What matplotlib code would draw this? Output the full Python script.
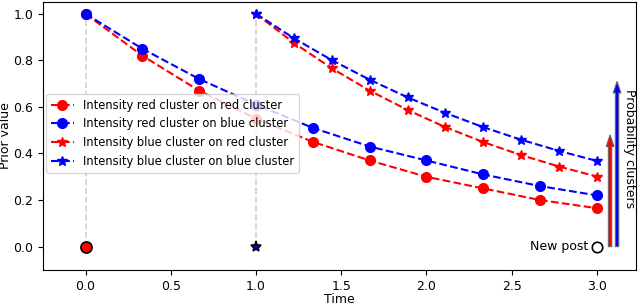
import matplotlib
matplotlib.use('Agg')
import matplotlib.pyplot as plt

t_circ = [0, 1/3, 2/3, 1, 4/3, 5/3, 2, 7/3, 8/3, 3]
red_circ = [1.0, 0.82, 0.67, 0.55, 0.45, 0.37, 0.30, 0.25, 0.20, 0.165]
blue_circ = [1.0, 0.85, 0.72, 0.61, 0.51, 0.43, 0.37, 0.31, 0.26, 0.22]

t_star = [1.0, 11/9, 13/9, 15/9, 17/9, 19/9, 21/9, 23/9, 25/9, 3.0]
red_star = [1.0, 0.875, 0.766, 0.670, 0.587, 0.513, 0.449, 0.393, 0.344, 0.301]
blue_star = [1.0, 0.895, 0.801, 0.717, 0.641, 0.574, 0.513, 0.459, 0.411, 0.368]

post_times = [0.0, 1.0]
prob_red = 0.48
prob_blue = 0.71

fs = 9
fig = plt.figure(figsize=(6.4, 3.05), dpi=100)
ax = fig.add_axes([0.067, 0.115, 0.927, 0.878])

for p in post_times:
    ax.plot([p, p], [0, 1], color='lightgray', linestyle='--', linewidth=1.2, zorder=1)

ax.plot(t_circ, red_circ, 'o--', color='red', markersize=7, linewidth=1.5,
        label='Intensity red cluster on red cluster')
ax.plot(t_circ, blue_circ, 'o--', color='blue', markersize=7, linewidth=1.5,
        label='Intensity red cluster on blue cluster')
ax.plot(t_star, red_star, '*--', color='red', markersize=7, linewidth=1.5,
        label='Intensity blue cluster on red cluster')
ax.plot(t_star, blue_star, '*--', color='blue', markersize=7, linewidth=1.5,
        label='Intensity blue cluster on blue cluster')

ax.plot([post_times[0]], [0], 'o', color='red', markeredgecolor='black', markersize=8, markeredgewidth=1.2)
ax.plot([post_times[1]], [0], '*', color='blue', markeredgecolor='black', markersize=8, markeredgewidth=1.2)
ax.plot([3.0], [0], 'o', markerfacecolor='white', markeredgecolor='black', markersize=7.5, markeredgewidth=1.2)
ax.text(2.95, 0, 'New post', ha='right', va='center', fontsize=fs)

ax.arrow(3.077, 0, 0, prob_red, width=0.02, head_width=0.045, head_length=0.05,
         length_includes_head=True, facecolor='red', edgecolor='dimgray', linewidth=0.8)
ax.arrow(3.118, 0, 0, prob_blue, width=0.02, head_width=0.045, head_length=0.05,
         length_includes_head=True, facecolor='blue', edgecolor='dimgray', linewidth=0.8)
ax.text(3.19, 0.42, 'Probability clusters', rotation=270, ha='center', va='center', fontsize=fs)

ax.set_xlim(-0.25, 3.23)
ax.set_ylim(-0.1, 1.05)
ax.set_xticks([0.0, 0.5, 1.0, 1.5, 2.0, 2.5, 3.0])
ax.set_yticks([0.0, 0.2, 0.4, 0.6, 0.8, 1.0])
ax.tick_params(labelsize=fs)
ax.set_xlabel('Time', fontsize=fs, labelpad=0)
ax.set_ylabel('Prior value', fontsize=fs, labelpad=1)
ax.legend(loc='center left', bbox_to_anchor=(0.0, 0.51), fontsize=8.3, borderaxespad=0.3,
          handlelength=2.0, labelspacing=0.5)

fig.savefig('out.png', dpi=100)
